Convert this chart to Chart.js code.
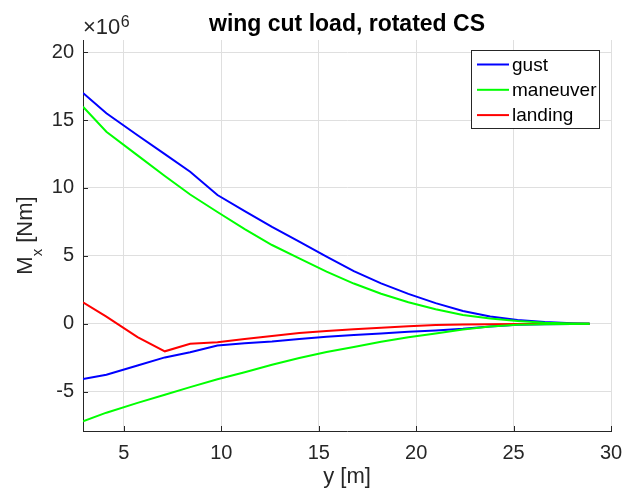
<!DOCTYPE html>
<html><head><meta charset="utf-8">
<script src="https://cdn.jsdelivr.net/npm/chart.js@4"></script>
<style>html,body{margin:0;padding:0;background:#fff}</style>
</head><body>
<canvas id="c" width="624" height="500"></canvas>
<script>
// span station y [m]
const spanY = [2.9, 4.1, 5.7, 7.1, 8.4, 9.8, 11.2, 12.6, 14.0, 15.4, 16.8, 18.2, 19.6, 21.0, 22.4, 23.8, 25.2, 26.6, 28.0, 28.9];
// cut load Mx [x10^6 Nm]
const gustMax = [17.0, 15.5, 13.88, 12.49, 11.2, 9.48, 8.3, 7.14, 6.04, 4.95, 3.87, 2.97, 2.2, 1.52, 0.94, 0.53, 0.27, 0.13, 0.04, 0];
const gustMin = [-4.07, -3.75, -3.08, -2.48, -2.1, -1.6, -1.43, -1.3, -1.12, -0.95, -0.83, -0.71, -0.585, -0.49, -0.375, -0.21, -0.07, -0.03, -0.01, 0];
const maneuverMax = [15.98, 14.14, 12.4, 10.88, 9.52, 8.23, 6.97, 5.8, 4.81, 3.84, 2.96, 2.21, 1.58, 1.07, 0.65, 0.38, 0.2, 0.08, 0.02, 0];
const maneuverMin = [-7.18, -6.55, -5.83, -5.23, -4.67, -4.09, -3.57, -3.02, -2.53, -2.08, -1.71, -1.33, -0.99, -0.72, -0.42, -0.21, -0.07, -0.03, -0.01, 0];
const landing = [1.57, 0.53, -0.98, -2.03, -1.47, -1.37, -1.13, -0.9, -0.69, -0.53, -0.41, -0.29, -0.18, -0.1, -0.05, -0.03, -0.02, -0.01, 0, 0];

const seriesNames = ['gust', 'maneuver', 'landing'];
const seriesColors = ['#0000ff', '#00ff00', '#ff0000'];
const xTicks = [5, 10, 15, 20, 25, 30];
const yTicks = [-5, 0, 5, 10, 15, 20];
const titleText = 'wing cut load, rotated CS';
const xLabel = 'y [m]';
const yLabelMain = 'M', yLabelSub = 'x', yLabelRest = ' [Nm]';
const exponentBase = '\u00d710', exponentPower = '6';

const FONT = "'Liberation Sans', Arial, Helvetica, sans-serif";
const pts = arr => arr.map((v, i) => ({x: spanY[i], y: v}));
const ds = (label, arr, color) => ({label, data: pts(arr), borderColor: color, backgroundColor: color,
  borderWidth: 2, pointRadius: 0, tension: 0, fill: false});

const extras = {
  id: 'extras',
  afterDraw(chart) {
    const ctx = chart.ctx, a = chart.chartArea, xs = chart.scales.x, ys = chart.scales.y;
    ctx.save();
    // inward tick marks
    ctx.strokeStyle = '#262626'; ctx.lineWidth = 1;
    ctx.beginPath();
    xTicks.forEach(v => { const p = Math.round(xs.getPixelForValue(v)) + 0.5; ctx.moveTo(p, a.bottom); ctx.lineTo(p, a.bottom - 5); });
    yTicks.forEach(v => { const p = Math.round(ys.getPixelForValue(v)) + 0.5; ctx.moveTo(a.left, p); ctx.lineTo(a.left + 5, p); });
    ctx.stroke();
    // exponent label
    ctx.fillStyle = '#262626';
    ctx.textBaseline = 'alphabetic'; ctx.textAlign = 'left';
    ctx.font = '22px ' + FONT;
    ctx.fillText(exponentBase, a.left, 34);
    const w = ctx.measureText(exponentBase).width;
    ctx.font = '16px ' + FONT;
    ctx.fillText(exponentPower, a.left + w + 0.5, 26.5);
    // y label with subscript
    ctx.save();
    ctx.translate(31.5, (a.top + a.bottom) / 2);
    ctx.rotate(-Math.PI / 2);
    ctx.font = '22px ' + FONT; const w1 = ctx.measureText(yLabelMain).width;
    ctx.font = '15px ' + FONT; const w2 = ctx.measureText(yLabelSub).width;
    ctx.font = '22px ' + FONT; const w3 = ctx.measureText(yLabelRest).width;
    let x0 = -(w1 + w2 + w3) / 2;
    ctx.fillText(yLabelMain, x0, 0);
    ctx.font = '15px ' + FONT; ctx.fillText(yLabelSub, x0 + w1, 10);
    ctx.font = '22px ' + FONT; ctx.fillText(yLabelRest, x0 + w1 + w2, 0);
    ctx.restore();
    // legend
    const lx = 471.5, ly = 50.5, lw = 128, lh = 78;
    ctx.fillStyle = '#ffffff'; ctx.fillRect(lx, ly, lw, lh);
    ctx.strokeStyle = '#262626'; ctx.lineWidth = 1; ctx.strokeRect(lx, ly, lw, lh);
    ctx.font = '19px ' + FONT; ctx.textBaseline = 'middle';
    seriesNames.forEach((n, i) => {
      const y = 64.5 + i * 25.3;
      ctx.strokeStyle = seriesColors[i]; ctx.lineWidth = 2;
      ctx.beginPath(); ctx.moveTo(477, y); ctx.lineTo(509, y); ctx.stroke();
      ctx.fillStyle = '#000000'; ctx.fillText(n, 512, y + 1);
    });
    ctx.restore();
  }
};

new Chart(document.getElementById('c'), {
  type: 'line',
  data: {
    datasets: [
      ds(seriesNames[1], maneuverMax, seriesColors[1]),
      ds(seriesNames[1], maneuverMin, seriesColors[1]),
      ds(seriesNames[2], landing, seriesColors[2]),
      ds(seriesNames[0], gustMax, seriesColors[0]),
      ds(seriesNames[0], gustMin, seriesColors[0])
    ]
  },
  options: {
    responsive: false,
    animation: false,
    devicePixelRatio: 1,
    layout: {padding: {left: 0, right: 13, top: 0, bottom: 0}},
    plugins: {
      legend: {display: false},
      tooltip: {enabled: false},
      title: {display: true, text: titleText, fullSize: false, color: '#000',
        font: {family: FONT, size: 23, weight: 'bold'}, padding: {top: 11, bottom: 1.4}}
    },
    scales: {
      x: {
        type: 'linear', min: 2.9, max: 30,
        afterBuildTicks: s => { s.ticks = xTicks.map(v => ({value: v})); },
        afterFit: s => { s.height = 69; s.paddingLeft = 0; s.paddingRight = 0; },
        grid: {color: '#dfdfdf', drawTicks: false},
        border: {display: true, color: '#262626', width: 1},
        ticks: {color: '#262626', padding: 10, maxRotation: 0, font: {family: FONT, size: 20}},
        title: {display: true, text: xLabel, color: '#262626', font: {family: FONT, size: 22}, padding: {top: 0, bottom: 10}}
      },
      y: {
        type: 'linear', min: -7.9, max: 20.9,
        afterBuildTicks: s => { s.ticks = yTicks.map(v => ({value: v})); },
        afterFit: s => { s.width = 83; s.paddingTop = 0; s.paddingBottom = 0; },
        grid: {color: '#dfdfdf', drawTicks: false},
        border: {display: true, color: '#262626', width: 1},
        ticks: {color: '#262626', padding: 9, font: {family: FONT, size: 20}}
      }
    }
  },
  plugins: [extras]
});
</script>
</body></html>
